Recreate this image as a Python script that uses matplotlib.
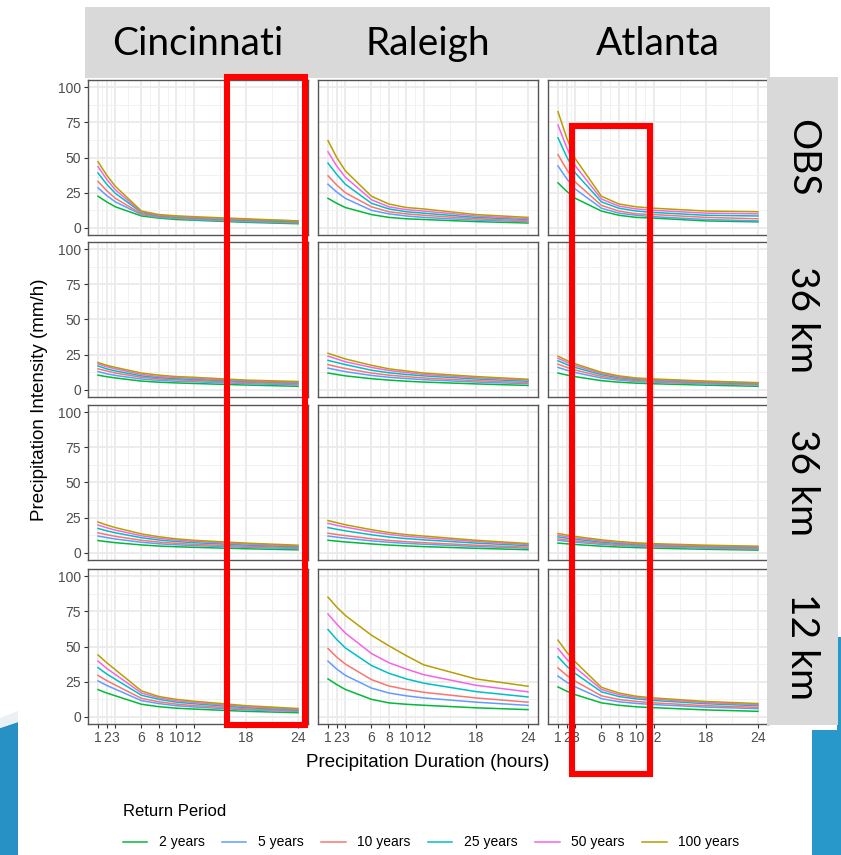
import matplotlib
matplotlib.use("Agg")
import matplotlib.pyplot as plt
from matplotlib.patches import Rectangle, Polygon
from matplotlib.lines import Line2D

# ---------------- data ----------------
durations = [1, 2, 3, 6, 8, 10, 12, 18, 24]
x_ticks = [1, 2, 3, 6, 8, 10, 12, 18, 24]
x_minor = [1.5, 2.5, 4.5, 7, 9, 11, 15, 21]
y_ticks = [0, 25, 50, 75, 100]
y_minor = [12.5, 37.5, 62.5, 87.5]
return_periods = ["2 years", "5 years", "10 years", "25 years", "50 years", "100 years"]
colors = ["#00BA38", "#619CFF", "#F8766D", "#00BFC4", "#F564E3", "#B79F00"]
locations = ["Cincinnati", "Raleigh", "Atlanta"]
row_labels = ["OBS", "36 km", "36 km", "12 km"]

# each panel: one row per return period (2,5,10,25,50,100 years), values at durations
obs_cincinnati = [
    [22.5, 18.5, 15.0, 8.5, 7.0, 6.0, 5.5, 4.0, 3.0],
    [28.5, 23.0, 18.5, 9.5, 7.5, 6.8, 6.0, 4.5, 3.5],
    [33.0, 26.5, 21.0, 10.0, 8.0, 7.2, 6.5, 5.0, 4.0],
    [39.0, 31.0, 24.5, 11.0, 8.5, 7.8, 7.0, 5.5, 4.5],
    [43.5, 34.5, 27.0, 11.5, 9.0, 8.2, 7.5, 6.0, 5.0],
    [47.0, 37.5, 29.5, 12.0, 9.5, 8.6, 8.0, 6.5, 5.0],
]
obs_raleigh = [
    [21.0, 17.5, 14.5, 9.5, 7.5, 6.5, 6.0, 4.5, 3.5],
    [31.0, 25.5, 21.0, 12.5, 10.0, 8.5, 7.5, 5.5, 4.5],
    [37.0, 30.5, 25.0, 15.0, 11.5, 10.0, 9.0, 6.5, 5.0],
    [46.0, 38.0, 31.0, 17.5, 13.5, 11.5, 10.5, 7.5, 6.0],
    [54.0, 44.0, 36.0, 20.0, 15.0, 13.0, 12.0, 8.5, 6.5],
    [62.0, 50.0, 40.5, 22.5, 17.0, 14.5, 13.5, 9.5, 7.5],
]
obs_atlanta = [
    [32.0, 26.0, 21.0, 12.0, 9.0, 7.5, 7.0, 5.0, 4.3],
    [44.0, 35.0, 27.5, 14.0, 10.5, 9.0, 8.0, 6.0, 5.0],
    [52.0, 41.5, 32.5, 16.0, 12.0, 10.0, 9.5, 7.5, 6.5],
    [64.0, 50.5, 39.0, 18.5, 14.0, 12.0, 11.0, 9.0, 8.5],
    [73.0, 57.0, 44.0, 20.5, 15.5, 13.5, 12.5, 10.5, 10.0],
    [82.5, 64.0, 49.0, 22.5, 17.0, 15.0, 14.0, 12.0, 11.5],
]
km36a_cincinnati = [
    [10.5, 9.4, 8.5, 6.3, 5.5, 5.0, 4.6, 3.5, 2.6],
    [13.0, 11.5, 10.3, 7.8, 6.8, 6.2, 5.8, 4.5, 3.6],
    [15.0, 13.5, 12.0, 9.0, 7.8, 7.2, 6.7, 5.2, 4.3],
    [17.0, 15.0, 13.5, 10.0, 8.7, 8.0, 7.5, 6.0, 5.0],
    [18.5, 16.5, 15.0, 11.0, 9.5, 8.8, 8.2, 6.5, 5.5],
    [19.5, 17.5, 16.0, 12.0, 10.5, 9.5, 9.0, 7.0, 6.0],
]
km36a_raleigh = [
    [12.0, 11.0, 10.0, 8.0, 7.0, 6.2, 5.6, 4.3, 3.2],
    [15.5, 14.2, 13.0, 10.3, 9.0, 8.1, 7.3, 5.6, 4.4],
    [18.0, 16.5, 15.2, 12.0, 10.5, 9.5, 8.5, 6.6, 5.2],
    [21.0, 19.5, 18.0, 14.0, 12.2, 11.0, 10.0, 7.8, 6.2],
    [24.0, 22.0, 20.0, 16.0, 13.8, 12.4, 11.0, 8.7, 7.0],
    [26.0, 24.0, 22.0, 17.5, 15.0, 13.5, 12.0, 9.5, 7.6],
]
km36a_atlanta = [
    [12.0, 10.6, 9.4, 6.6, 5.5, 4.8, 4.4, 3.4, 2.6],
    [16.0, 14.0, 12.3, 8.5, 7.0, 5.9, 5.4, 4.3, 3.5],
    [18.3, 16.0, 14.1, 9.6, 7.8, 6.6, 6.0, 4.8, 4.0],
    [20.7, 18.1, 15.9, 10.8, 8.7, 7.4, 6.8, 5.4, 4.5],
    [22.5, 19.7, 17.3, 11.7, 9.4, 8.0, 7.3, 5.9, 4.9],
    [24.0, 21.0, 18.5, 12.5, 10.0, 8.5, 7.8, 6.3, 5.2],
]
km36b_cincinnati = [
    [8.8, 8.0, 7.3, 5.7, 4.9, 4.4, 4.0, 3.0, 2.2],
    [12.0, 10.9, 9.9, 7.6, 6.5, 5.8, 5.2, 4.0, 3.1],
    [14.3, 13.0, 11.8, 9.0, 7.7, 6.8, 6.1, 4.7, 3.7],
    [17.4, 15.7, 14.3, 10.8, 9.2, 8.1, 7.3, 5.6, 4.4],
    [19.8, 17.9, 16.2, 12.2, 10.4, 9.1, 8.2, 6.3, 5.0],
    [22.0, 19.8, 18.0, 13.5, 11.5, 10.0, 9.0, 7.0, 5.5],
]
km36b_raleigh = [
    [9.0, 8.4, 7.8, 6.4, 5.6, 5.0, 4.5, 3.3, 2.3],
    [12.0, 11.2, 10.5, 8.6, 7.6, 6.8, 6.2, 4.6, 3.4],
    [14.0, 13.1, 12.3, 10.1, 8.9, 8.0, 7.3, 5.5, 4.1],
    [18.0, 16.8, 15.7, 12.9, 11.3, 10.2, 9.3, 7.0, 5.2],
    [21.0, 19.6, 18.3, 15.0, 13.2, 11.8, 10.8, 8.1, 6.0],
    [23.0, 21.5, 20.0, 16.5, 14.5, 13.0, 12.0, 9.0, 6.7],
]
km36b_atlanta = [
    [7.0, 6.5, 6.0, 4.8, 4.2, 3.8, 3.4, 2.6, 2.0],
    [9.0, 8.3, 7.6, 6.1, 5.3, 4.7, 4.3, 3.4, 2.7],
    [10.0, 9.2, 8.5, 6.8, 5.9, 5.3, 4.8, 3.9, 3.2],
    [11.4, 10.5, 9.7, 7.7, 6.7, 6.0, 5.5, 4.5, 3.8],
    [12.6, 11.6, 10.7, 8.5, 7.4, 6.6, 6.0, 5.0, 4.3],
    [13.8, 12.7, 11.7, 9.3, 8.1, 7.2, 6.6, 5.5, 4.8],
]
km12_cincinnati = [
    [19.4, 17.0, 15.0, 9.0, 7.3, 6.2, 5.6, 4.0, 3.0],
    [25.6, 22.4, 19.7, 11.6, 9.5, 8.0, 7.1, 5.0, 3.9],
    [29.5, 25.8, 22.6, 13.2, 10.8, 9.1, 8.1, 5.7, 4.4],
    [35.0, 30.5, 26.7, 15.4, 12.5, 10.5, 9.4, 6.6, 5.0],
    [39.6, 34.5, 30.1, 17.0, 13.6, 11.5, 10.3, 7.3, 5.5],
    [44.0, 38.5, 33.5, 18.5, 14.5, 12.5, 11.2, 8.0, 6.0],
]
km12_raleigh = [
    [27.0, 23.0, 19.5, 12.5, 10.0, 9.0, 8.3, 6.5, 5.2],
    [39.6, 34.0, 29.5, 20.5, 17.0, 15.0, 13.5, 10.5, 8.2],
    [48.6, 42.5, 37.5, 26.5, 22.0, 19.5, 17.5, 13.5, 10.5],
    [62.0, 55.0, 49.0, 36.5, 31.0, 27.0, 24.0, 18.0, 14.2],
    [73.0, 66.0, 59.5, 45.0, 38.5, 34.0, 30.0, 22.5, 17.8],
    [85.0, 78.0, 72.0, 58.0, 50.5, 43.5, 37.0, 27.0, 21.8],
]
km12_atlanta = [
    [21.3, 18.3, 15.8, 10.0, 8.3, 7.2, 6.6, 5.0, 4.0],
    [29.0, 24.7, 21.3, 13.0, 10.8, 9.6, 8.8, 7.0, 5.9],
    [34.8, 29.5, 25.3, 15.0, 12.4, 11.0, 10.0, 8.0, 6.8],
    [42.7, 36.0, 30.8, 17.8, 14.5, 12.8, 11.7, 9.4, 8.0],
    [48.6, 41.0, 35.0, 19.5, 15.8, 13.8, 12.6, 10.2, 8.7],
    [54.5, 46.0, 39.0, 21.0, 17.0, 14.7, 13.5, 11.0, 9.5],
]

panels = [
    [obs_cincinnati, obs_raleigh, obs_atlanta],
    [km36a_cincinnati, km36a_raleigh, km36a_atlanta],
    [km36b_cincinnati, km36b_raleigh, km36b_atlanta],
    [km12_cincinnati, km12_raleigh, km12_atlanta],
]

# ---------------- layout ----------------
W, H = 841, 855
fig = plt.figure(figsize=(W / 100, H / 100), dpi=100)
fig.patch.set_facecolor("white")


def fx(x):
    return x / W


def fy(y):
    return 1 - y / H


col_left = [88, 318, 548]
panel_w = 220
row_top = [80, 242, 405, 569]
panel_h = 155

base_font = ["Liberation Sans", "DejaVu Sans"]
strip_font = ["Lato", "DejaVu Sans"]

# decorative slide background (blue shapes)
fig.patches.append(Polygon([[fx(0), fy(728)], [fx(18), fy(722)], [fx(18), fy(855)], [fx(0), fy(855)]],
                           closed=True, transform=fig.transFigure, facecolor="#2790C4", edgecolor="none", zorder=0))
fig.patches.append(Polygon([[fx(0), fy(718)], [fx(18), fy(711)], [fx(18), fy(722)], [fx(0), fy(728)]],
                           closed=True, transform=fig.transFigure, facecolor="#EAF1F5", edgecolor="none", zorder=0))
fig.patches.append(Rectangle((fx(812), fy(855)), fx(29), 125 / H, transform=fig.transFigure,
                             facecolor="#2898CA", edgecolor="none", zorder=0))
fig.patches.append(Rectangle((fx(837), fy(730)), fx(4), 93 / H, transform=fig.transFigure,
                             facecolor="#2898CA", edgecolor="none", zorder=0))

# strips
fig.patches.append(Rectangle((fx(85), fy(78)), fx(685), 71 / H, transform=fig.transFigure,
                             facecolor="#D9D9D9", edgecolor="none", zorder=1))
fig.patches.append(Rectangle((fx(767), fy(725)), fx(71), 648 / H, transform=fig.transFigure,
                             facecolor="#D9D9D9", edgecolor="none", zorder=1))

for j, loc in enumerate(locations):
    fig.text(fx(col_left[j] + panel_w / 2), fy(44), loc, ha="center", va="center",
             fontsize=28, family=strip_font, color="black", zorder=5)
for i, lab in enumerate(row_labels):
    fig.text(fx(802), fy(row_top[i] + panel_h / 2), lab, ha="center", va="center",
             fontsize=28, family=strip_font, color="black", rotation=270, zorder=5)

for i in range(4):
    for j in range(3):
        ax = fig.add_axes([fx(col_left[j]), fy(row_top[i] + panel_h), panel_w / W, panel_h / H])
        ax.set_facecolor("white")
        ax.set_xlim(1 - 0.05 * 23, 24 + 0.05 * 23)
        ax.set_ylim(-5, 105)
        ax.set_xticks(x_ticks)
        ax.set_xticks(x_minor, minor=True)
        ax.set_yticks(y_ticks)
        ax.set_yticks(y_minor, minor=True)
        ax.grid(True, which="major", color="#EBEBEB", linewidth=1.3, zorder=0)
        ax.grid(True, which="minor", color="#F2F2F2", linewidth=0.7, zorder=0)
        ax.set_axisbelow(True)
        for s in ax.spines.values():
            s.set_color("#555555")
            s.set_linewidth(1.0)
        ax.tick_params(which="minor", length=0)
        ax.tick_params(which="major", length=3, width=0.8, color="#333333",
                       labelsize=10, labelcolor="#4D4D4D", pad=2)
        if j == 0:
            ax.set_yticklabels([str(v) for v in y_ticks], family=base_font)
        else:
            ax.tick_params(axis="y", which="major", length=0, labelleft=False)
        if i == 3:
            ax.set_xticklabels([str(v) for v in x_ticks], family=base_font)
        else:
            ax.tick_params(axis="x", which="major", length=0, labelbottom=False)
        for k, rp in enumerate(return_periods):
            ax.plot(durations, panels[i][j][k], color=colors[k], linewidth=1.1, zorder=3)

# axis titles
fig.text(fx(40), fy(400), "Precipitation Intensity (mm/h)", rotation=90, ha="center", va="center",
         fontsize=13.5, family=base_font, color="black")
fig.text(fx(428), fy(762), "Precipitation Duration (hours)", ha="center", va="center",
         fontsize=13.5, family=base_font, color="black")

# legend
handles = [Line2D([], [], color=c, linewidth=1.1) for c in colors]
leg = fig.legend(handles, return_periods, ncol=6, loc="upper left",
                 bbox_to_anchor=(fx(113), fy(794)), frameon=False, title="Return Period",
                 prop={"family": base_font, "size": 10}, handlelength=1.75, handletextpad=0.85,
                 columnspacing=1.25, alignment="left", borderpad=0.2)
leg.get_title().set_fontsize(12)
leg.get_title().set_family(base_font)
leg._legend_box.sep = 12

# red highlight boxes
for (x0, y0, x1, y1) in [(227, 77, 304.5, 724.5), (572, 126, 649.5, 774)]:
    fig.patches.append(Rectangle((fx(x0), fy(y1)), (x1 - x0) / W, (y1 - y0) / H,
                                 transform=fig.transFigure, facecolor="none",
                                 edgecolor="#FF0000", linewidth=4.4, zorder=10))

fig.savefig("out.png", dpi=100)
